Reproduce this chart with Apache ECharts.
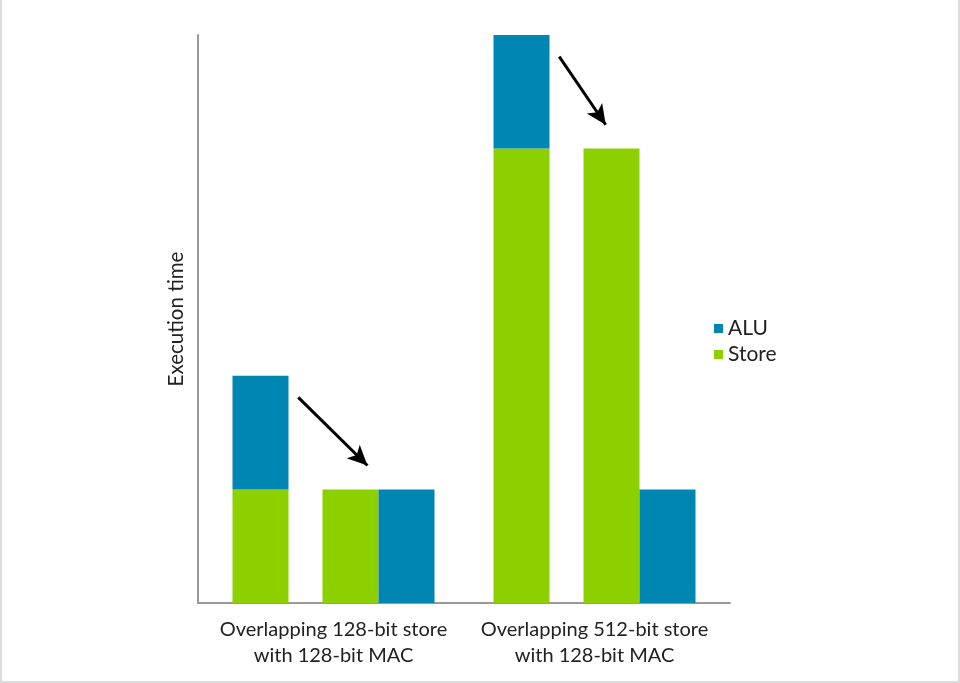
<!DOCTYPE html>
<html>
<head>
<meta charset="utf-8">
<script src="https://cdn.jsdelivr.net/npm/echarts@6/dist/echarts.min.js"></script>
<style>
  html, body { margin: 0; padding: 0; background: #fff; }
  #frame { position: absolute; left: 0; top: 0; width: 960px; height: 683px; box-sizing: border-box;
           border-left: 2px solid #dcdcdc; border-right: 2px solid #dcdcdc; border-bottom: 2px solid #dcdcdc; }
  #chart { position: absolute; left: 0; top: 0; width: 960px; height: 683px; }
</style>
</head>
<body>
<div id="frame"></div>
<div id="chart"></div>
<script>
// ---- data ----
const categories = ['Overlapping 128-bit store\nwith 128-bit MAC', 'Overlapping 512-bit store\nwith 128-bit MAC'];
const beforeStore = [1, 4];   // stacked bar, bottom part
const beforeALU   = [1, 1];   // stacked bar, top part
const afterStore  = [1, 4];   // overlapped: store bar
const afterALU    = [1, 1];   // overlapped: ALU bar
// arrows in data space: [xStart, yStart, xEnd, yEnd] (x in category units, 0..2)
const arrows = [
  [0.365, 1.81, 0.630, 1.21],
  [1.365, 4.81, 1.543, 4.21]
];
const yMax = 5;

const BLUE = '#0086B3';
const GREEN = '#8CD000';
const FONT = 'Lato';
const AXIS = { color: '#999', width: 2 };

const chart = echarts.init(document.getElementById('chart'));
const barW = 56;
const option = {
  backgroundColor: 'transparent',
  animation: false,
  textStyle: { fontFamily: FONT, color: '#222' },
  grid: [
    { left: 203, right: 235, top: 35, bottom: 80 },   // bars
    { left: 198, right: 230, top: 35, bottom: 80 }    // axis frame
  ],
  legend: {
    orient: 'vertical',
    left: 709, top: 313,
    data: ['ALU', 'Store'],
    icon: 'rect', itemWidth: 9, itemHeight: 9, itemGap: 5,
    textStyle: { fontFamily: FONT, fontSize: 21, color: '#222', lineHeight: 21 }
  },
  xAxis: [
    {
      gridIndex: 0, type: 'category', data: categories,
      axisLine: { show: false },
      axisTick: { show: false },
      axisLabel: { interval: 0, fontFamily: FONT, fontSize: 20, color: '#222', lineHeight: 26, margin: 14 }
    },
    { gridIndex: 0, type: 'value', min: 0, max: 2, show: false },
    {
      gridIndex: 1, type: 'value', min: 0, max: 1,
      axisLine: { show: true, lineStyle: AXIS },
      axisTick: { show: false }, axisLabel: { show: false }, splitLine: { show: false }
    }
  ],
  yAxis: [
    {
      gridIndex: 0, type: 'value', min: 0, max: yMax, show: false
    },
    {
      gridIndex: 1, type: 'value', min: 0, max: 1,
      name: 'Execution time', nameLocation: 'middle', nameGap: 11,
      nameTextStyle: { fontFamily: FONT, fontSize: 20.5, color: '#222' },
      axisLine: { show: true, lineStyle: AXIS },
      axisTick: { show: false }, axisLabel: { show: false }, splitLine: { show: false }
    }
  ],
  series: [
    { name: 'Store', type: 'bar', stack: 'before', data: beforeStore, barWidth: barW, barGap: 0, itemStyle: { color: GREEN } },
    { name: 'ALU', type: 'bar', stack: 'before', data: beforeALU, barWidth: barW, barGap: 0, itemStyle: { color: BLUE } },
    { name: 'spacer', type: 'bar', data: ['-', '-'], barWidth: 34, barGap: 0, silent: true },
    { name: 'Store', type: 'bar', data: afterStore, barWidth: barW, barGap: 0, itemStyle: { color: GREEN } },
    { name: 'ALU', type: 'bar', data: afterALU, barWidth: barW, barGap: 0, itemStyle: { color: BLUE } },
    {
      name: 'arrows', type: 'line', xAxisIndex: 1, yAxisIndex: 0, data: [], silent: true,
      markLine: {
        silent: true, symbol: ['none', 'arrow'], symbolSize: [14, 20],
        label: { show: false },
        lineStyle: { color: '#000', width: 3, type: 'solid' },
        emphasis: { disabled: true },
        data: arrows.map(a => [{ coord: [a[0], a[1]] }, { coord: [a[2], a[3]] }])
      }
    }
  ]
};
chart.setOption(option);
</script>
</body>
</html>
